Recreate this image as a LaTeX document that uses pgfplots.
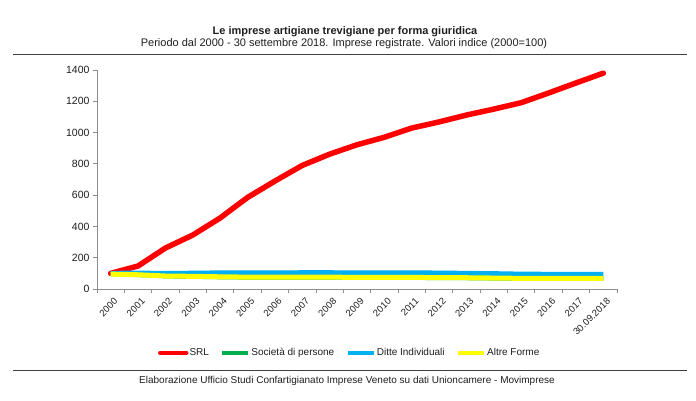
\documentclass[border=0pt]{standalone}
\usepackage{pgfplots}
\pgfplotsset{compat=1.18}
\usepackage{fontspec}
\setmainfont{Liberation Sans}
\definecolor{cred}{RGB}{255,0,0}
\definecolor{cgreen}{RGB}{0,176,80}
\definecolor{cblue}{RGB}{0,176,240}
\definecolor{cyellow}{RGB}{255,255,0}
\definecolor{axgray}{RGB}{140,140,140}
\definecolor{txt}{RGB}{30,30,30}
\begin{document}
\begin{tikzpicture}[x=1pt,y=1pt]
\useasboundingbox (0,0) rectangle (696,401);
\node[font=\fontsize{11}{12}\selectfont\bfseries, text=txt] at (345,369) {Le imprese artigiane trevigiane per forma giuridica};
\node[font=\fontsize{11}{12}\selectfont, text=txt] at (344,357.5) {Periodo dal 2000 - 30 settembre 2018. Imprese registrate. Valori indice (2000=100)};
\draw[black!75, line width=0.8pt] (13,347) -- (687,347);
\draw[black!75, line width=0.8pt] (13,31) -- (687,31);
\node[font=\fontsize{10}{11}\selectfont, text=txt] at (347,20) {Elaborazione Ufficio Studi Confartigianato Imprese Veneto su dati Unioncamere - Movimprese};
\begin{axis}[
  at={(97pt,112pt)}, anchor=south west,
  scale only axis, width=520pt, height=219pt,
  xmin=-0.5, xmax=18.5, ymin=0, ymax=1400,
  axis lines*=left,
  axis line style={axgray, line width=0.8pt, -},
  xtick={0,...,18},
  xticklabels={2000,2001,2002,2003,2004,2005,2006,2007,2008,2009,2010,2011,2012,2013,2014,2015,2016,2017,30.09.2018},
  major x tick style={draw=none},
  minor xtick={-0.5,0.5,...,18.5},
  minor tick style={axgray, line width=0.8pt},
  minor tick length=4pt,
  ytick={0,200,...,1400},
  major y tick style={axgray, line width=0.8pt},
  major tick length=4pt,
  tick align=outside,
  xticklabel style={rotate=45, anchor=north east, font=\fontsize{9.5}{10}\selectfont, text=txt, inner sep=1pt, yshift=-4pt},
  yticklabel style={font=\fontsize{10.5}{11}\selectfont, text=txt},
  /pgf/number format/assume math mode=true,
  /pgf/number format/1000 sep={},
  legend columns=4,
  legend style={at={(0.485,-0.292)}, anchor=center, draw=none, fill=none,
    font=\fontsize{10}{11}\selectfont, text=txt,
    /tikz/every even column/.append style={column sep=10pt},
    nodes={inner xsep=1pt}},
  legend image code/.code={\draw[#1, line width=4.5pt] (0pt,0pt) -- (26pt,0pt);},
  clip=false,
]
\addplot[cred, line width=5.5pt, line join=round, line cap=round] coordinates {
(0,100)(1,147)(2,262)(3,345)(4,454)(5,585)(6,690)(7,790)(8,862)(9,922)(10,970)(11,1029)(12,1068)(13,1112)(14,1150)(15,1191)(16,1253)(17,1317)(18,1380)};
\addlegendentry{SRL}
\addplot[cgreen, line width=5pt, line join=round] coordinates {
(0,98)(1,92)(2,84)(3,81)(4,78)(5,76)(6,76)(7,76)(8,76)(9,74)(10,74)(11,74)(12,73)(13,72)(14,70)(15,68)(16,68)(17,68)(18,68)};
\addlegendentry{Società di persone}
\addplot[cblue, line width=5pt, line join=round] coordinates {
(0,100)(1,102)(2,99)(3,101)(4,103)(5,103)(6,103)(7,104)(8,104)(9,103)(10,103)(11,103)(12,102)(13,100)(14,98)(15,95)(16,94)(17,94)(18,93)};
\addlegendentry{Ditte Individuali}
\addplot[cyellow, line width=5pt, line join=round] coordinates {
(0,95)(1,91)(2,83)(3,81)(4,78)(5,76)(6,76)(7,76)(8,76)(9,74)(10,74)(11,74)(12,73)(13,72)(14,70)(15,68)(16,68)(17,68)(18,68)};
\addlegendentry{Altre Forme}
\end{axis}
\end{tikzpicture}
\end{document}
